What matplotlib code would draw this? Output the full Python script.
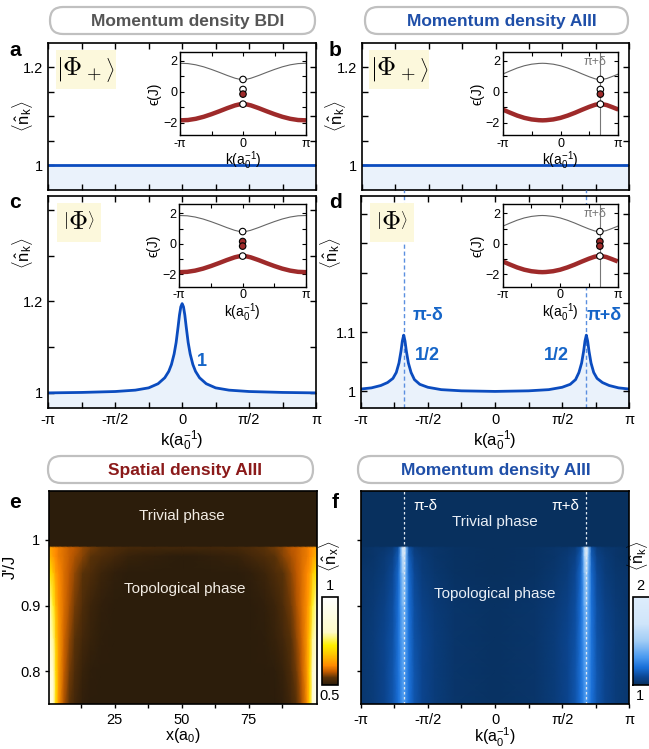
import numpy as np
import matplotlib
import matplotlib.pyplot as plt
from matplotlib.colors import LinearSegmentedColormap
from matplotlib.patches import FancyBboxPatch, Rectangle

# fontes
plt.rcParams['font.family'] = ['Liberation Sans', 'DejaVu Sans']
plt.rcParams['mathtext.fontset'] = 'custom'
plt.rcParams['mathtext.rm'] = 'Liberation Sans'
plt.rcParams['mathtext.it'] = 'Liberation Sans:italic'
plt.rcParams['mathtext.bf'] = 'Liberation Sans:bold'
plt.rcParams['axes.linewidth'] = 1.2

PI = np.pi

# ---------------- dados ----------------
# bandas dos insets (k em unidades de pi)
k_bdi = [-1, -0.875, -0.75, -0.625, -0.5, -0.375, -0.25, -0.125, -0.0625, 0,
         0.0625, 0.125, 0.25, 0.375, 0.5, 0.625, 0.75, 0.875, 1]
up_bdi = [1.85, 1.83, 1.75, 1.62, 1.45, 1.26, 1.06, 0.88, 0.82, 0.8,
          0.82, 0.88, 1.06, 1.26, 1.45, 1.62, 1.75, 1.83, 1.85]
lo_bdi = [-1.85, -1.83, -1.75, -1.62, -1.45, -1.26, -1.06, -0.88, -0.82, -0.8,
          -0.82, -0.88, -1.06, -1.26, -1.45, -1.62, -1.75, -1.83, -1.85]

k_aiii = [-1, -0.875, -0.75, -0.625, -0.5, -0.375, -0.31, -0.25, -0.125, 0, 0.125,
          0.25, 0.375, 0.5, 0.6, 0.65, 0.69, 0.73, 0.8, 0.9, 1]
up_aiii = [1.15, 1.35, 1.54, 1.69, 1.79, 1.84, 1.85, 1.84, 1.79, 1.69, 1.54,
           1.36, 1.16, 0.97, 0.84, 0.81, 0.8, 0.81, 0.86, 1.0, 1.15]
lo_aiii = [-1.15, -1.35, -1.54, -1.69, -1.79, -1.84, -1.85, -1.84, -1.79, -1.69, -1.54,
           -1.36, -1.16, -0.97, -0.84, -0.81, -0.8, -0.81, -0.86, -1.0, -1.15]

# estados marcados nos insets
e_marks = [0.8, 0.15, -0.15, -0.8]
k_mark_bdi = 0.0
k_mark_aiii = 0.69

# densidade de momento (painel c)
k_c = [-1, -0.75, -0.5, -0.35, -0.25, -0.18, -0.13, -0.1, -0.08, -0.06, -0.045, -0.03,
       -0.02, -0.01, 0, 0.01, 0.02, 0.03, 0.045, 0.06, 0.08, 0.1, 0.13, 0.18, 0.25,
       0.35, 0.5, 0.75, 1]
n_c = [1.0, 1.001, 1.003, 1.006, 1.011, 1.02, 1.033, 1.047, 1.062, 1.085, 1.11, 1.145,
       1.17, 1.188, 1.195, 1.188, 1.17, 1.145, 1.11, 1.085, 1.062, 1.047, 1.033, 1.02,
       1.011, 1.006, 1.003, 1.001, 1.0]

# densidade de momento (painel d)
k_d = [-1, -0.92, -0.85, -0.8, -0.76, -0.735, -0.715, -0.70, -0.69, -0.68, -0.67,
       -0.66, -0.645, -0.625, -0.6, -0.56, -0.5, -0.4, -0.25, 0,
       0.25, 0.4, 0.5, 0.56, 0.6, 0.625, 0.645, 0.66, 0.67, 0.68, 0.69, 0.70, 0.715,
       0.735, 0.76, 0.8, 0.85, 0.92, 1]
n_d = [1.004, 1.006, 1.01, 1.015, 1.022, 1.032, 1.048, 1.068, 1.085, 1.095, 1.085,
       1.068, 1.048, 1.032, 1.02, 1.012, 1.007, 1.003, 1.001, 1.0,
       1.001, 1.003, 1.007, 1.012, 1.02, 1.032, 1.048, 1.068, 1.085, 1.095, 1.085,
       1.068, 1.048, 1.032, 1.022, 1.015, 1.01, 1.006, 1.004]
k_peak = 0.68

# mapa espacial (painel e): metade esquerda, espelhada
x_half = [0.5, 2, 3, 4, 6, 8, 10, 13, 16, 20, 25, 30, 40, 50]
J_rows = [0.75, 0.8, 0.85, 0.9, 0.95, 0.975, 0.989, 0.991, 1.075]
nx_half = [
    [0.95, 0.85, 0.70, 0.62, 0.57, 0.54, 0.52, 0.505, 0.50, 0.50, 0.50, 0.50, 0.50, 0.50],
    [0.92, 0.82, 0.70, 0.63, 0.58, 0.55, 0.53, 0.51, 0.503, 0.50, 0.50, 0.50, 0.50, 0.50],
    [0.88, 0.78, 0.68, 0.63, 0.585, 0.56, 0.54, 0.52, 0.51, 0.503, 0.50, 0.50, 0.50, 0.50],
    [0.82, 0.74, 0.66, 0.62, 0.59, 0.57, 0.55, 0.53, 0.515, 0.505, 0.50, 0.50, 0.50, 0.50],
    [0.72, 0.67, 0.63, 0.61, 0.59, 0.575, 0.56, 0.54, 0.53, 0.515, 0.505, 0.50, 0.50, 0.50],
    [0.66, 0.63, 0.61, 0.60, 0.59, 0.58, 0.57, 0.555, 0.54, 0.53, 0.52, 0.51, 0.505, 0.50],
    [0.64, 0.62, 0.61, 0.60, 0.59, 0.58, 0.575, 0.56, 0.55, 0.54, 0.53, 0.525, 0.52, 0.52],
    [0.50] * 14,
    [0.50] * 14,
]

# mapa de momento (painel f): metade esquerda (k/pi), espelhada
kf_half = [-1, -0.9, -0.82, -0.76, -0.72, -0.7, -0.69, -0.68, -0.67, -0.66, -0.64,
           -0.6, -0.54, -0.45, -0.3, 0]
nk_half = [
    [1.03, 1.05, 1.08, 1.13, 1.20, 1.26, 1.30, 1.32, 1.30, 1.26, 1.20, 1.13, 1.08, 1.05, 1.02, 1.01],
    [1.03, 1.05, 1.08, 1.13, 1.21, 1.28, 1.32, 1.34, 1.32, 1.28, 1.21, 1.13, 1.08, 1.05, 1.02, 1.01],
    [1.03, 1.05, 1.08, 1.12, 1.21, 1.30, 1.35, 1.37, 1.35, 1.30, 1.21, 1.12, 1.08, 1.05, 1.02, 1.01],
    [1.02, 1.04, 1.07, 1.11, 1.20, 1.32, 1.39, 1.42, 1.39, 1.32, 1.20, 1.11, 1.07, 1.04, 1.02, 1.01],
    [1.02, 1.03, 1.05, 1.09, 1.18, 1.35, 1.47, 1.52, 1.47, 1.35, 1.18, 1.09, 1.05, 1.03, 1.01, 1.00],
    [1.01, 1.02, 1.04, 1.07, 1.15, 1.38, 1.60, 1.68, 1.60, 1.38, 1.15, 1.07, 1.04, 1.02, 1.01, 1.00],
    [1.01, 1.02, 1.03, 1.05, 1.12, 1.40, 1.75, 1.90, 1.75, 1.40, 1.12, 1.05, 1.03, 1.02, 1.01, 1.00],
    [1.0] * 16,
    [1.0] * 16,
]

# ---------------- estilos ----------------
W, H = 649, 749
BLUE = '#0b4cbf'
FILL = '#eaf2fb'
LBL = '#1565c8'
RED = '#9e2a2a'
YEL = '#fcf8dc'

cmap_e = LinearSegmentedColormap.from_list('e', [
    (0, '#2c1d0b'), (0.08, '#5a3208'), (0.15, '#c05a00'), (0.22, '#ff8a00'),
    (0.35, '#ffc800'), (0.45, '#fff000'), (0.6, '#fffbc8'), (1, '#ffffff')])
cmap_f = LinearSegmentedColormap.from_list('f', [
    (0, '#08305e'), (0.1, '#0c4a9a'), (0.2, '#1a70d8'), (0.32, '#4c9bf0'),
    (0.5, '#a0ccf5'), (0.7, '#cfe5fa'), (1, '#deedfc')])


def rect(x0, y0, x1, y1):
    return [x0 / W, 1 - y1 / H, (x1 - x0) / W, (y1 - y0) / H]


def ftext(x, y, s, **kw):
    fig.text(x / W, 1 - y / H, s, **kw)


fig = plt.figure(figsize=(W / 100, H / 100), dpi=100)

# caixas de título
titles = [
    (50, 7, 315, 34, 'Momentum density BDI', '#555555'),
    (365, 7, 628, 34, 'Momentum density AIII', '#1f4fa8'),
    (48, 456, 313, 483, 'Spatial density AIII', '#8b1a1a'),
    (358, 456, 623, 483, 'Momentum density AIII', '#1f4fa8'),
]
for x0, y0, x1, y1, s, c in titles:
    box = FancyBboxPatch((x0 / 100, (H - y1) / 100), (x1 - x0) / 100, (y1 - y0) / 100,
                         boxstyle='round,pad=0,rounding_size=0.13',
                         transform=fig.dpi_scale_trans, fill=False,
                         ec='#c0c0c0', lw=1.6)
    fig.add_artist(box)
    ftext((x0 + x1) / 2 + 5, (y0 + y1) / 2 + 1, s, color=c, fontsize=12.5,
          fontweight='bold', ha='center', va='center')

# letras dos painéis
for s, x, y in [('a', 15, 50), ('b', 335, 50), ('c', 15, 203), ('d', 335, 203),
                 ('e', 15, 503), ('f', 335, 503)]:
    ftext(x, y, s, fontsize=15, fontweight='bold', ha='center', va='center')

kt = [-PI, -PI / 2, 0, PI / 2, PI]
ktl = ['-π', '-π/2', '0', 'π/2', 'π']
ylab = r'$\langle\hat{\mathrm{n}}_{\mathrm{k}}\rangle$'


def main_axes(r, ylim, major, majl, minor, xlabels):
    ax = fig.add_axes(r)
    ax.set_xlim(-PI, PI)
    ax.set_ylim(*ylim)
    ax.set_xticks(kt)
    ax.set_xticks([-0.75 * PI, -0.25 * PI, 0.25 * PI, 0.75 * PI], minor=True)
    ax.set_yticks(major)
    ax.set_yticklabels(majl)
    ax.set_yticks(minor, minor=True)
    ax.tick_params(which='both', direction='in', top=True, right=True,
                   length=4, width=1, labelsize=10.5)
    if xlabels:
        ax.set_xticklabels(ktl)
        ax.set_xlabel(r'k(a$_0^{-1}$)', fontsize=12, labelpad=1)
    else:
        ax.set_xticklabels([])
    ax.set_ylabel(ylab, fontsize=12)
    return ax


def phi_box(ax, x0, x1, y0, y1, s):
    ax.add_patch(Rectangle((x0, y0), x1 - x0, y1 - y0, transform=ax.transAxes,
                           color=YEL, zorder=3, lw=0))
    ax.text((x0 + x1) / 2, (y0 + y1) / 2, s, transform=ax.transAxes, fontsize=19,
            ha='center', va='center', math_fontfamily='cm', zorder=4)


def inset(r, kb, up, lo, km, cols, line):
    ax = fig.add_axes(r)
    kb = np.array(kb) * PI
    ax.plot(kb, up, color='#666666', lw=0.8)
    ax.plot(kb, lo, color=RED, lw=3.2, solid_capstyle='butt')
    if line:
        ax.axvline(km * PI, color='#777777', lw=0.8)
        ax.text(0.6 * PI, 1.95, 'π+δ', color='#777777', fontsize=9,
                ha='center', va='center')
    ax.scatter([km * PI] * 4, e_marks, s=22, c=cols, edgecolors='black',
               linewidths=0.8, zorder=5)
    ax.set_xlim(-PI, PI)
    ax.set_ylim(-2.8, 2.6)
    ax.set_xticks([-PI, 0, PI])
    ax.set_xticklabels(['-π', '0', 'π'])
    ax.set_xticks([-PI / 2, PI / 2], minor=True)
    ax.set_yticks([-2, 0, 2])
    ax.set_yticks([-1, 1], minor=True)
    ax.tick_params(which='both', direction='in', top=True, right=True,
                   length=3, width=0.8, labelsize=9, pad=2)
    ax.set_xlabel(r'k(a$_0^{-1}$)', fontsize=10, labelpad=0)
    ax.set_ylabel('ϵ(J)', fontsize=10, labelpad=1)
    for sp in ax.spines.values():
        sp.set_linewidth(1)
    return ax


cols_a = ['white', 'white', RED, 'white']
cols_c = ['white', RED, RED, 'white']

# painel a
ax = main_axes(rect(48.3, 42.7, 316, 190), (0.95, 1.25), [1, 1.2], ['1', '1.2'],
               [1.05, 1.1, 1.15], False)
ax.axhline(1, color=BLUE, lw=2)
ax.axhspan(0.95, 1, color=FILL, lw=0)
ax.yaxis.set_label_coords(-0.05, 0.5)
phi_box(ax, 0.029, 0.252, 0.684, 0.95, r'$\left|\Phi_+\right\rangle$')
inset(rect(180, 51.7, 306, 135), k_bdi, up_bdi, lo_bdi, k_mark_bdi, cols_a, False)

# painel b
ax = main_axes(rect(361.7, 42.7, 629.3, 190), (0.95, 1.25), [1, 1.2], ['1', '1.2'],
               [1.05, 1.1, 1.15], False)
ax.axhline(1, color=BLUE, lw=2)
ax.axhspan(0.95, 1, color=FILL, lw=0)
ax.yaxis.set_label_coords(-0.05, 0.5)
phi_box(ax, 0.028, 0.252, 0.684, 0.95, r'$\left|\Phi_+\right\rangle$')
inset(rect(502.7, 51.7, 618.3, 135), k_aiii, up_aiii, lo_aiii, k_mark_aiii, cols_a, True)

# painel c
ax = main_axes(rect(48.3, 196, 316, 408), (0.967, 1.43), [1, 1.2], ['1', '1.2'],
               [1.1, 1.3, 1.4], True)
kc = np.array(k_c) * PI
ax.fill_between(kc, 0.967, n_c, color=FILL, lw=0)
ax.plot(kc, n_c, color=BLUE, lw=2)
ax.text(0.146 * PI, 1.068, '1', color=LBL, fontsize=13, fontweight='bold',
        ha='center', va='center')
ax.yaxis.set_label_coords(-0.05, 0.73)
phi_box(ax, 0.034, 0.197, 0.784, 0.968, r'$\left|\Phi\right\rangle$')
inset(rect(179.3, 204, 306, 286.7), k_bdi, up_bdi, lo_bdi, k_mark_bdi, cols_c, False)

# painel d
ax = main_axes(rect(360.7, 196, 629.3, 408), (0.972, 1.33), [1, 1.1], ['1', '1.1'],
               [1.05, 1.15, 1.2, 1.25, 1.3], True)
kd = np.array(k_d) * PI
ax.fill_between(kd, 0.972, n_d, color=FILL, lw=0)
ax.plot(kd, n_d, color=BLUE, lw=2)
for s in (-1, 1):
    ax.axvline(s * k_peak * PI, ymax=1.03, color='#5b8fe0', lw=1, ls=(0, (3, 2)),
               clip_on=False, zorder=1)
ax.text(-0.5 * PI, 1.128, 'π-δ', color=LBL, fontsize=13, fontweight='bold',
        ha='center', va='center')
ax.text(0.81 * PI, 1.128, 'π+δ', color=LBL, fontsize=13, fontweight='bold',
        ha='center', va='center')
ax.text(-0.5 * PI, 1.06, '1/2', color=LBL, fontsize=13, fontweight='bold',
        ha='center', va='center')
ax.text(0.46 * PI, 1.06, '1/2', color=LBL, fontsize=13, fontweight='bold',
        ha='center', va='center')
ax.yaxis.set_label_coords(-0.065, 0.73)
phi_box(ax, 0.036, 0.198, 0.784, 0.968, r'$\left|\Phi\right\rangle$')
inset(rect(502.7, 204, 617.7, 286.7), k_aiii, up_aiii, lo_aiii, k_mark_aiii, cols_c, True)

# painel e
ax = fig.add_axes(rect(49.3, 490.7, 316.7, 704))
x_full = np.array(x_half + [101 - v for v in x_half[::-1]])
Z = np.array([r + r[::-1] for r in nx_half])
X, Y = np.meshgrid(x_full, J_rows)
me = ax.pcolormesh(X, Y, Z, shading='gouraud', cmap=cmap_e, vmin=0.5, vmax=1.0)
ax.set_xlim(0.5, 100.5)
ax.set_ylim(0.75, 1.075)
ax.set_xticks([25, 50, 75])
ax.set_xticks([12.5, 37.5, 62.5, 87.5], minor=True)
ax.set_yticks([0.8, 0.9, 1])
ax.set_yticklabels(['0.8', '0.9', '1'])
ax.tick_params(which='both', direction='out', length=3, width=1, labelsize=10.5)
ax.set_xlabel(r'x(a$_0$)', fontsize=11.5, labelpad=-1)
ax.set_ylabel("J'/J", fontsize=12)
ax.yaxis.set_label_coords(-0.117, 0.644)
ax.text(50, 1.037, 'Trivial phase', color='#f2ece4', fontsize=11, ha='center', va='center')
ax.text(51, 0.925, 'Topological phase', color='#f2ece4', fontsize=11,
        ha='center', va='center')

cax = fig.add_axes(rect(321.7, 597, 338.3, 685))
fig.colorbar(me, cax=cax)
cax.set_yticks([])
ftext(330, 586, '1', fontsize=10.5, ha='center', va='center')
ftext(330, 696, '0.5', fontsize=10.5, ha='center', va='center')
ftext(330, 556, r'$\langle\hat{\mathrm{n}}_{\mathrm{x}}\rangle$', fontsize=12,
      rotation=90, ha='center', va='center')

# painel f
ax = fig.add_axes(rect(360.7, 490.7, 629.3, 704))
kf_full = np.array(kf_half + [-v for v in kf_half[::-1]]) * PI
Zf = np.array([r + r[::-1] for r in nk_half])
KX, KY = np.meshgrid(kf_full, J_rows)
mf = ax.pcolormesh(KX, KY, Zf, shading='gouraud', cmap=cmap_f, vmin=1.0, vmax=2.0)
for s in (-1, 1):
    ax.axvline(s * k_peak * PI, color='#e0e8f0', lw=0.9, ls=(0, (2, 2)))
ax.set_xlim(-PI, PI)
ax.set_ylim(0.75, 1.075)
ax.set_xticks(kt)
ax.set_xticklabels(ktl)
ax.set_xticks([-0.75 * PI, -0.25 * PI, 0.25 * PI, 0.75 * PI], minor=True)
ax.set_yticks([0.8, 0.9, 1])
ax.set_yticklabels([])
ax.tick_params(which='both', direction='out', length=3, width=1, labelsize=10.5)
ax.set_xlabel(r'k(a$_0^{-1}$)', fontsize=11.5, labelpad=-1)
ax.text(-0.52 * PI, 1.052, 'π-δ', color='white', fontsize=11, ha='center', va='center')
ax.text(0.52 * PI, 1.052, 'π+δ', color='white', fontsize=11, ha='center', va='center')
ax.text(0, 1.028, 'Trivial phase', color='#e8eef6', fontsize=11, ha='center', va='center')
ax.text(0, 0.917, 'Topological phase', color='#e8eef6', fontsize=11,
        ha='center', va='center')

cax = fig.add_axes(rect(633.3, 597, 652, 685))
fig.colorbar(mf, cax=cax)
cax.set_yticks([])
ftext(640, 586, '2', fontsize=10.5, ha='center', va='center')
ftext(640, 696, '1', fontsize=10.5, ha='center', va='center')
ftext(637, 556, r'$\langle\hat{\mathrm{n}}_{\mathrm{k}}\rangle$', fontsize=11.5,
      rotation=90, ha='center', va='center')

fig.savefig('out.png', dpi=100)
